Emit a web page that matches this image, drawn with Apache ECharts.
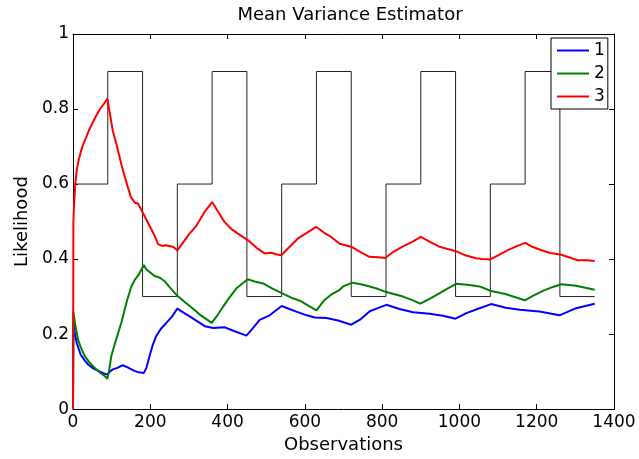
<!DOCTYPE html>
<html>
<head>
<meta charset="utf-8">
<script src="https://cdn.jsdelivr.net/npm/echarts@6/dist/echarts.min.js"></script>
<style>
html,body{margin:0;padding:0;background:#fff;}
#chart{width:639px;height:459px;}
</style>
</head>
<body>
<div id="chart"></div>
<script>
// ---- data ----
const titleText = 'Mean Variance Estimator';
const xName = 'Observations';
const yName = 'Likelihood';
const seriesNames = ['1', '2', '3'];

const stepX = [0, 90, 180, 270, 360, 450, 540, 630, 720, 810, 900, 990, 1080, 1170, 1260, 1350];
const stepY = [0.6, 0.9, 0.3, 0.6, 0.9, 0.3, 0.6, 0.9, 0.3, 0.6, 0.9, 0.3, 0.6, 0.9, 0.3, 0.3];

const blueData = [
  [0,0],[1,0.23],[5,0.2],[10,0.175],[20,0.145],[30,0.13],[39,0.119],[50,0.11],[65,0.102],[80,0.095],
  [89,0.092],[95,0.1],[103,0.106],[115,0.11],[129,0.117],[140,0.112],[159,0.102],[170,0.098],[183,0.096],
  [190,0.11],[198,0.141],[206,0.17],[215,0.194],[228,0.215],[241,0.229],[255,0.245],[270,0.268],
  [288,0.256],[305,0.245],[328,0.23],[341,0.221],[363,0.216],[393,0.218],[420,0.207],[449,0.196],
  [465,0.215],[483,0.238],[509,0.25],[540,0.275],[560,0.267],[578,0.26],[605,0.25],[626,0.244],
  [656,0.243],[686,0.236],[720,0.225],[745,0.24],[768,0.261],[790,0.27],[811,0.278],[845,0.267],
  [880,0.258],[923,0.254],[957,0.249],[990,0.241],[1018,0.256],[1052,0.269],[1082,0.28],[1120,0.27],
  [1156,0.265],[1207,0.26],[1259,0.25],[1302,0.269],[1350,0.281]
];

const greenData = [
  [0,0],[1,0.26],[5,0.23],[13,0.185],[20,0.165],[30,0.142],[42,0.125],[56,0.11],[70,0.097],[80,0.09],
  [89,0.081],[93,0.1],[99,0.141],[110,0.18],[125,0.23],[140,0.29],[151,0.327],[160,0.345],[168,0.355],
  [176,0.37],[183,0.384],[190,0.372],[200,0.364],[211,0.355],[225,0.35],[237,0.341],[250,0.325],
  [270,0.302],[290,0.285],[314,0.265],[328,0.252],[345,0.24],[359,0.23],[375,0.252],[389,0.274],
  [405,0.298],[423,0.322],[452,0.346],[470,0.34],[492,0.335],[515,0.322],[540,0.309],[565,0.297],
  [587,0.289],[610,0.275],[630,0.263],[650,0.29],[668,0.305],[690,0.318],[699,0.327],[723,0.337],
  [745,0.333],[768,0.327],[790,0.32],[811,0.312],[854,0.3],[875,0.292],[899,0.281],[925,0.295],
  [949,0.309],[970,0.322],[992,0.334],[1026,0.331],[1052,0.327],[1082,0.315],[1121,0.306],
  [1145,0.298],[1169,0.29],[1190,0.302],[1216,0.315],[1240,0.325],[1263,0.333],[1302,0.329],[1350,0.318]
];

const redData = [
  [0,0],[1,0.5],[3,0.55],[6,0.6],[10,0.64],[15,0.665],[20,0.685],[26,0.705],[33,0.722],[40,0.74],
  [50,0.762],[60,0.782],[70,0.8],[80,0.814],[89,0.827],[95,0.79],[103,0.742],[114,0.7],[125,0.653],
  [138,0.605],[150,0.565],[160,0.55],[168,0.548],[175,0.535],[180,0.525],[190,0.505],[200,0.485],
  [210,0.465],[220,0.44],[230,0.435],[240,0.437],[250,0.435],[260,0.432],[270,0.423],[280,0.437],
  [300,0.466],[320,0.49],[340,0.525],[360,0.552],[375,0.527],[392,0.499],[410,0.48],[427,0.468],
  [453,0.45],[475,0.43],[496,0.415],[513,0.417],[525,0.413],[539,0.41],[560,0.432],[582,0.455],
  [605,0.47],[629,0.486],[650,0.47],[668,0.459],[690,0.441],[720,0.433],[745,0.418],[767,0.406],
  [790,0.405],[808,0.403],[830,0.42],[853,0.433],[880,0.447],[900,0.459],[925,0.445],[948,0.433],
  [970,0.427],[991,0.421],[1015,0.41],[1043,0.402],[1060,0.4],[1080,0.399],[1100,0.41],[1125,0.424],
  [1150,0.435],[1170,0.443],[1190,0.432],[1211,0.424],[1235,0.416],[1261,0.412],[1285,0.404],
  [1306,0.397],[1330,0.397],[1350,0.395]
];

const xTicks = { min: 0, max: 1400, interval: 200 };
const yTicks = { min: 0, max: 1, interval: 0.2 };

// ---- chart ----
const FONT = 'DejaVu Sans';
const chart = echarts.init(document.getElementById('chart'), null, { renderer: 'canvas' });

const axisCommon = {
  axisLine: { show: true, onZero: false, lineStyle: { color: '#000', width: 1 } },
  axisTick: { show: true, inside: true, length: 5, lineStyle: { color: '#000', width: 1 } },
  splitLine: { show: false }
};
const plainNum = v => String(Math.round(v * 1000) / 1000);

chart.setOption({
  animation: false,
  backgroundColor: '#fff',
  title: {
    text: titleText,
    left: 345,
    top: 1,
    textAlign: 'center',
    textStyle: { fontFamily: FONT, fontSize: 18, fontWeight: 'normal', color: '#000' }
  },
  legend: {
    data: seriesNames,
    orient: 'vertical',
    left: 551,
    top: 38,
    padding: [4, 3, 4, 6],
    itemGap: 6,
    itemWidth: 32,
    itemHeight: 2,
    itemTextGap: 6,
    icon: 'rect',
    backgroundColor: '#fff',
    borderColor: '#000',
    borderWidth: 1,
    borderRadius: 0,
    textStyle: { fontFamily: FONT, fontSize: 17, lineHeight: 17, color: '#000' }
  },
  grid: { left: 73, right: 25, top: 34, bottom: 47, containLabel: false },
  xAxis: [
    Object.assign({
      type: 'value', position: 'bottom',
      min: xTicks.min, max: xTicks.max, interval: xTicks.interval,
      name: xName, nameLocation: 'middle', nameGap: 22,
      nameTextStyle: { fontFamily: FONT, fontSize: 18, color: '#000' },
      axisLabel: { fontFamily: FONT, fontSize: 17, color: '#000', margin: 5, formatter: plainNum }
    }, axisCommon),
    Object.assign({
      type: 'value', position: 'top',
      min: xTicks.min, max: xTicks.max, interval: xTicks.interval,
      axisLabel: { show: false }
    }, axisCommon)
  ],
  yAxis: [
    Object.assign({
      type: 'value', position: 'left',
      min: yTicks.min, max: yTicks.max, interval: yTicks.interval,
      name: yName, nameLocation: 'middle', nameGap: 37, nameRotate: 90,
      nameTextStyle: { fontFamily: FONT, fontSize: 18, color: '#000' },
      axisLabel: { fontFamily: FONT, fontSize: 17, color: '#000', margin: 4, formatter: plainNum }
    }, axisCommon),
    Object.assign({
      type: 'value', position: 'right',
      min: yTicks.min, max: yTicks.max, interval: yTicks.interval,
      axisLabel: { show: false }
    }, axisCommon)
  ],
  series: [
    {
      name: 'step', type: 'line', step: 'end', showSymbol: false, silent: true,
      data: stepX.map((x, i) => [x, stepY[i]]),
      lineStyle: { color: '#222', width: 1 }, z: 1
    },
    {
      name: seriesNames[0], type: 'line', showSymbol: false, data: blueData,
      itemStyle: { color: '#0000ff' }, lineStyle: { color: '#0000ff', width: 2 }, z: 2
    },
    {
      name: seriesNames[1], type: 'line', showSymbol: false, data: greenData,
      itemStyle: { color: '#008000' }, lineStyle: { color: '#008000', width: 2 }, z: 3
    },
    {
      name: seriesNames[2], type: 'line', showSymbol: false, data: redData,
      itemStyle: { color: '#ff0000' }, lineStyle: { color: '#ff0000', width: 2 }, z: 4
    }
  ]
});
</script>
</body>
</html>
